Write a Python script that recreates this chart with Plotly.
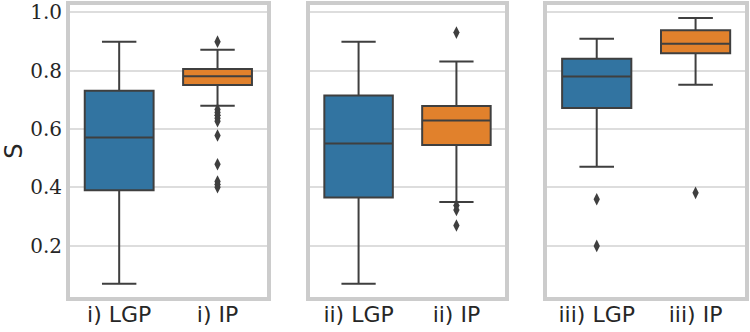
import plotly.graph_objects as go

panels = ["i)", "ii)", "iii)"]
methods = ["LGP", "IP"]

# Precomputed box statistics per panel: [LGP, IP]
q1 = [[0.39, 0.751], [0.365, 0.545], [0.672, 0.860]]
median = [[0.571, 0.781], [0.550, 0.629], [0.780, 0.893]]
q3 = [[0.731, 0.806], [0.715, 0.679], [0.841, 0.939]]
lowerfence = [[0.069, 0.680], [0.069, 0.350], [0.471, 0.752]]
upperfence = [[0.900, 0.872], [0.900, 0.832], [0.910, 0.981]]

# Outliers per panel: [LGP, IP]
outliers = [
    [[], [0.90, 0.667, 0.657, 0.647, 0.637, 0.627, 0.578, 0.479, 0.42, 0.41, 0.40]],
    [[], [0.931, 0.338, 0.322, 0.269]],
    [[0.359, 0.199], [0.381]],
]

colors = ["#3274a1", "#e1812c"]
edge = "#3f3f3f"

fig = go.Figure()

W = 676.0
domains = [(0, 197 / W), (240 / W, 436 / W), (478 / W, 1.0)]

for p in range(3):
    xa = "x" if p == 0 else f"x{p+1}"
    ya = "y" if p == 0 else f"y{p+1}"
    cats = [f"{panels[p]} {m}" for m in methods]
    for m in range(2):
        fig.add_trace(go.Box(
            x=[cats[m]],
            q1=[q1[p][m]], median=[median[p][m]], q3=[q3[p][m]],
            lowerfence=[lowerfence[p][m]], upperfence=[upperfence[p][m]],
            fillcolor=colors[m],
            line=dict(color=edge, width=2),
            whiskerwidth=0.5,
            width=0.7,
            boxpoints=False,
            xaxis=xa, yaxis=ya,
            showlegend=False,
        ))
        ys = outliers[p][m]
        if ys:
            fig.add_trace(go.Scatter(
                x=[cats[m]] * len(ys), y=ys, mode="markers",
                marker=dict(symbol="diamond-tall", size=9, color=edge),
                xaxis=xa, yaxis=ya, showlegend=False,
            ))

frame = dict(showline=True, mirror=True, linewidth=4, linecolor="#cccccc")
yrange = [0.0236, 1.0257]

layout = dict(
    width=750, height=332,
    margin=dict(l=69.5, r=4.5, t=5, b=34.5, autoexpand=False),
    plot_bgcolor="white", paper_bgcolor="white",
)
for p in range(3):
    cats = [f"{panels[p]} {m}" for m in methods]
    xk = "xaxis" if p == 0 else f"xaxis{p+1}"
    yk = "yaxis" if p == 0 else f"yaxis{p+1}"
    layout[xk] = dict(
        domain=list(domains[p]), anchor="y" if p == 0 else f"y{p+1}",
        type="category", categoryorder="array", categoryarray=cats,
        range=[-0.5, 1.5], showgrid=False, zeroline=False,
        tickfont=dict(family="DejaVu Sans", size=22, color="#262626"),
        ticks="", ticklabelstandoff=-5, automargin=False, **frame,
    )
    layout[yk] = dict(
        domain=[0, 1], anchor="x" if p == 0 else f"x{p+1}",
        range=yrange, tickvals=[0.2, 0.4, 0.6, 0.8, 1.0],
        ticktext=["0.2", "0.4", "0.6", "0.8", "1.0"],
        showticklabels=(p == 0), showgrid=True, gridcolor="#dddddd", gridwidth=1.5,
        zeroline=False, ticks="", automargin=False,
        tickfont=dict(family="DejaVu Serif", size=20, color="#262626"),
        **frame,
    )
layout["yaxis"]["title"] = dict(text="S", font=dict(family="DejaVu Sans", size=24, color="#262626"), standoff=8)

fig.update_layout(**layout)
fig.write_html(
    "out.html",
    config={"displayModeBar": False},
    post_script="document.body.style.margin='0px';document.body.style.overflow='hidden';",
)
